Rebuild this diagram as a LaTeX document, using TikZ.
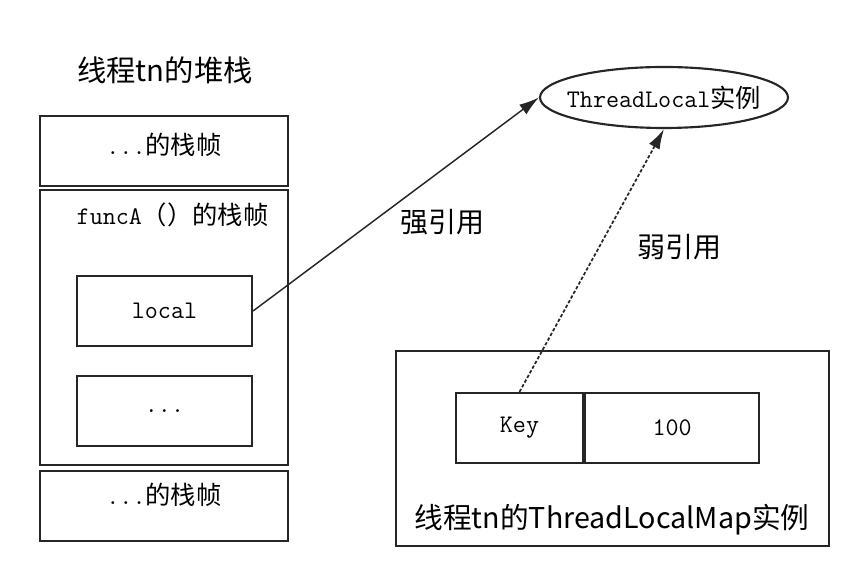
\documentclass[tikz,border=0pt]{standalone}
\usepackage{fontspec}
\usetikzlibrary{arrows.meta,shapes.geometric}
\newfontfamily\cjk{Noto Sans CJK SC}

\tikzset{
  box/.style={rectangle,draw=black!85,line width=1.6pt,inner sep=0pt},
  txt/.style={font=\fontsize{19}{21}\selectfont\ttfamily},
  head/.style={font=\fontsize{22}{25}\selectfont\cjk},
  ref/.style={-{Latex[length=15pt,width=9pt]},line width=1.1pt,draw=black!85},
}

\begin{document}
\begin{tikzpicture}[x=0.75pt,y=-0.75pt]
\useasboundingbox (0,0) rectangle (861,580);

% stack of thread tn
\node [head] (stacktitle) at (165,70) {线程tn的堆栈};
\node [box,minimum width=186pt,minimum height=52.5pt] (upper) at (164,151) {};
\node [txt] (uppertext) at (164,145) {...{\cjk 的栈帧}};
\node [box,minimum width=186pt,minimum height=206.25pt] (funca) at (164,327.5) {};
\node [txt,anchor=west] (funcatext) at (72,215) {funcA{\cjk （）的栈帧}};
\node [box,minimum width=131.25pt,minimum height=52.5pt] (local) at (164.5,311) {};
\node [txt] at (local) {local};
\node [box,minimum width=131.25pt,minimum height=52.5pt] (other) at (164.5,411) {};
\node [txt] at (other) {...};
\node [box,minimum width=186pt,minimum height=52.5pt] (lower) at (164,506) {};
\node [txt] (lowertext) at (164,495) {...{\cjk 的栈帧}};

% threadlocal instance
\node [ellipse,draw=black!85,line width=1.6pt,minimum width=186pt,minimum height=45.75pt,inner sep=0pt] (tl) at (664,97.5) {};
\node [txt] (tltext) at (tl) {ThreadLocal{\cjk 实例}};

% map of thread tn
\node [box,minimum width=324.75pt,minimum height=146.25pt] (map) at (612.5,448.5) {};
\node [box,minimum width=95.25pt,minimum height=52.5pt] (key) at (519.5,428) {};
\node [txt] at (key) {Key};
\node [box,minimum width=130.5pt,minimum height=52.5pt,anchor=west] (value) at (key.east) {};
\node [txt] at (value) {100};
\node [head,font=\fontsize{21.5}{24}\selectfont\cjk] (maptext) at (612,520) {线程tn的ThreadLocalMap实例};

% references
\draw [ref] (local.east) -- (tl.west);
\node [head,font=\fontsize{21}{24}\selectfont\cjk] (strong) at (442,222) {强引用};
\draw [ref,line width=1.3pt,dash pattern=on 2.5pt off 1.5pt] (key.north) -- (tl.south);
\node [head,font=\fontsize{21}{24}\selectfont\cjk] (weak) at (679,247) {弱引用};
\end{tikzpicture}
\end{document}
